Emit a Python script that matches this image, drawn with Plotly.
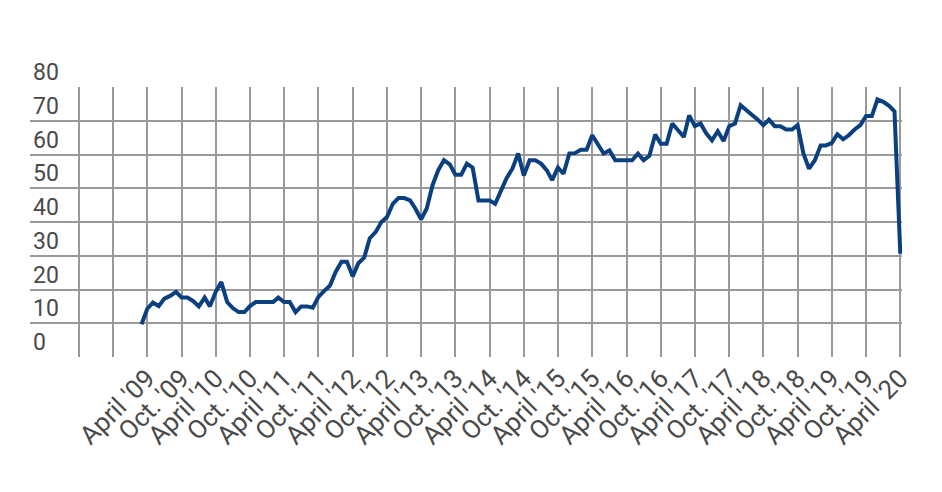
import pandas as pd
import plotly.graph_objects as go

# Monthly values, March 2009 - April 2020
values_2009 = [9.7, 14.3, 16.1, 15.1, 17.3, 18.1, 19.3, 17.6, 17.6, 16.6]
values_2010 = [15.0, 17.6, 15.0, 19.3, 22.2, 16.3, 14.5, 13.3, 13.3, 15.1, 16.3, 16.3]
values_2011 = [16.3, 16.3, 17.6, 16.3, 16.3, 13.3, 15.0, 15.0, 14.6, 17.8, 19.6, 21.1]
values_2012 = [25.2, 28.2, 28.2, 23.9, 27.8, 29.4, 35.2, 37.0, 40.0, 41.5, 45.4, 47.1]
values_2013 = [47.1, 46.4, 44.0, 40.8, 44.0, 50.9, 55.3, 58.3, 57.1, 54.0, 54.0, 57.3]
values_2014 = [56.1, 46.4, 46.4, 46.4, 45.4, 49.4, 53.0, 55.8, 60.3, 53.8, 58.3, 58.3]
values_2015 = [57.3, 55.3, 52.4, 56.1, 54.3, 60.3, 60.4, 61.4, 61.4, 65.7, 63.2, 60.3]
values_2016 = [61.2, 58.3, 58.3, 58.3, 58.3, 60.3, 58.3, 59.6, 65.9, 63.2, 63.2, 69.2]
values_2017 = [67.4, 65.2, 71.6, 68.4, 69.2, 66.2, 64.2, 66.9, 64.0, 68.4, 69.2, 74.6]
values_2018 = [73.1, 71.8, 70.4, 68.7, 70.3, 68.4, 68.4, 67.4, 67.4, 68.7, 60.3, 55.8]
values_2019 = [58.3, 62.7, 62.7, 63.4, 66.0, 64.5, 65.7, 67.4, 68.7, 71.4, 71.4, 76.3]
values_2020 = [75.6, 74.4, 72.8, 30.6]

values = (values_2009 + values_2010 + values_2011 + values_2012 + values_2013
          + values_2014 + values_2015 + values_2016 + values_2017 + values_2018
          + values_2019 + values_2020)
months = pd.date_range("2009-03-01", periods=len(values), freq="MS")

tick_dates = ["2008-04-01", "2008-10-01",
              "2009-04-01", "2009-10-01", "2010-04-01", "2010-10-01",
              "2011-04-01", "2011-10-01", "2012-04-01", "2012-10-01",
              "2013-04-01", "2013-10-01", "2014-04-01", "2014-10-01",
              "2015-04-01", "2015-10-01", "2016-04-01", "2016-10-01",
              "2017-04-01", "2017-10-01", "2018-04-01", "2018-10-01",
              "2019-04-01", "2019-10-01", "2020-04-01"]
tick_labels = ["", "",
               "April '09", "Oct. '09", "April '10", "Oct. '10",
               "April '11", "Oct. '11", "April '12", "Oct. '12",
               "April '13", "Oct. '13", "April '14", "Oct. '14",
               "April '15", "Oct. '15", "April '16", "Oct. '16",
               "April '17", "Oct. '17", "April '18", "Oct. '18",
               "April '19", "Oct. '19", "April '20"]
y_ticks = [0, 10, 20, 30, 40, 50, 60, 70, 80]

fig = go.Figure()
fig.add_trace(go.Scatter(
    x=months, y=values, mode="lines",
    line=dict(color="#0b4080", width=4),
    hoverinfo="skip", showlegend=False,
))

grid_color = "#9a9a9a"
fig.update_layout(
    width=942, height=492,
    margin=dict(l=30, r=40, t=87, b=135, pad=0),
    paper_bgcolor="white", plot_bgcolor="white",
    font=dict(family="Roboto", color="#4a4a4a"),
    xaxis=dict(
        type="date", automargin=False,
        range=["2007-07-15", "2020-04-10"],
        tickmode="array", tickvals=tick_dates, ticktext=tick_labels,
        tickangle=-45, tickfont=dict(size=26, color="#4a4a4a"),
        showgrid=True, gridcolor=grid_color, gridwidth=2,
        zeroline=False, showline=False, ticks="",
    ),
    yaxis=dict(
        range=[0, 80], automargin=False,
        tickmode="array", tickvals=y_ticks,
        ticklabelposition="inside", ticklabelshift=-15, ticklabelstandoff=0,
        ticklabeloverflow="allow",
        tickfont=dict(size=23, color="#4a4a4a"),
        showgrid=True, gridcolor=grid_color, gridwidth=2,
        zeroline=False, showline=False, ticks="",
    ),
)

fig.write_html("out.html", config={"displayModeBar": False, "staticPlot": True},
               post_script="document.body.style.margin='0px';")
